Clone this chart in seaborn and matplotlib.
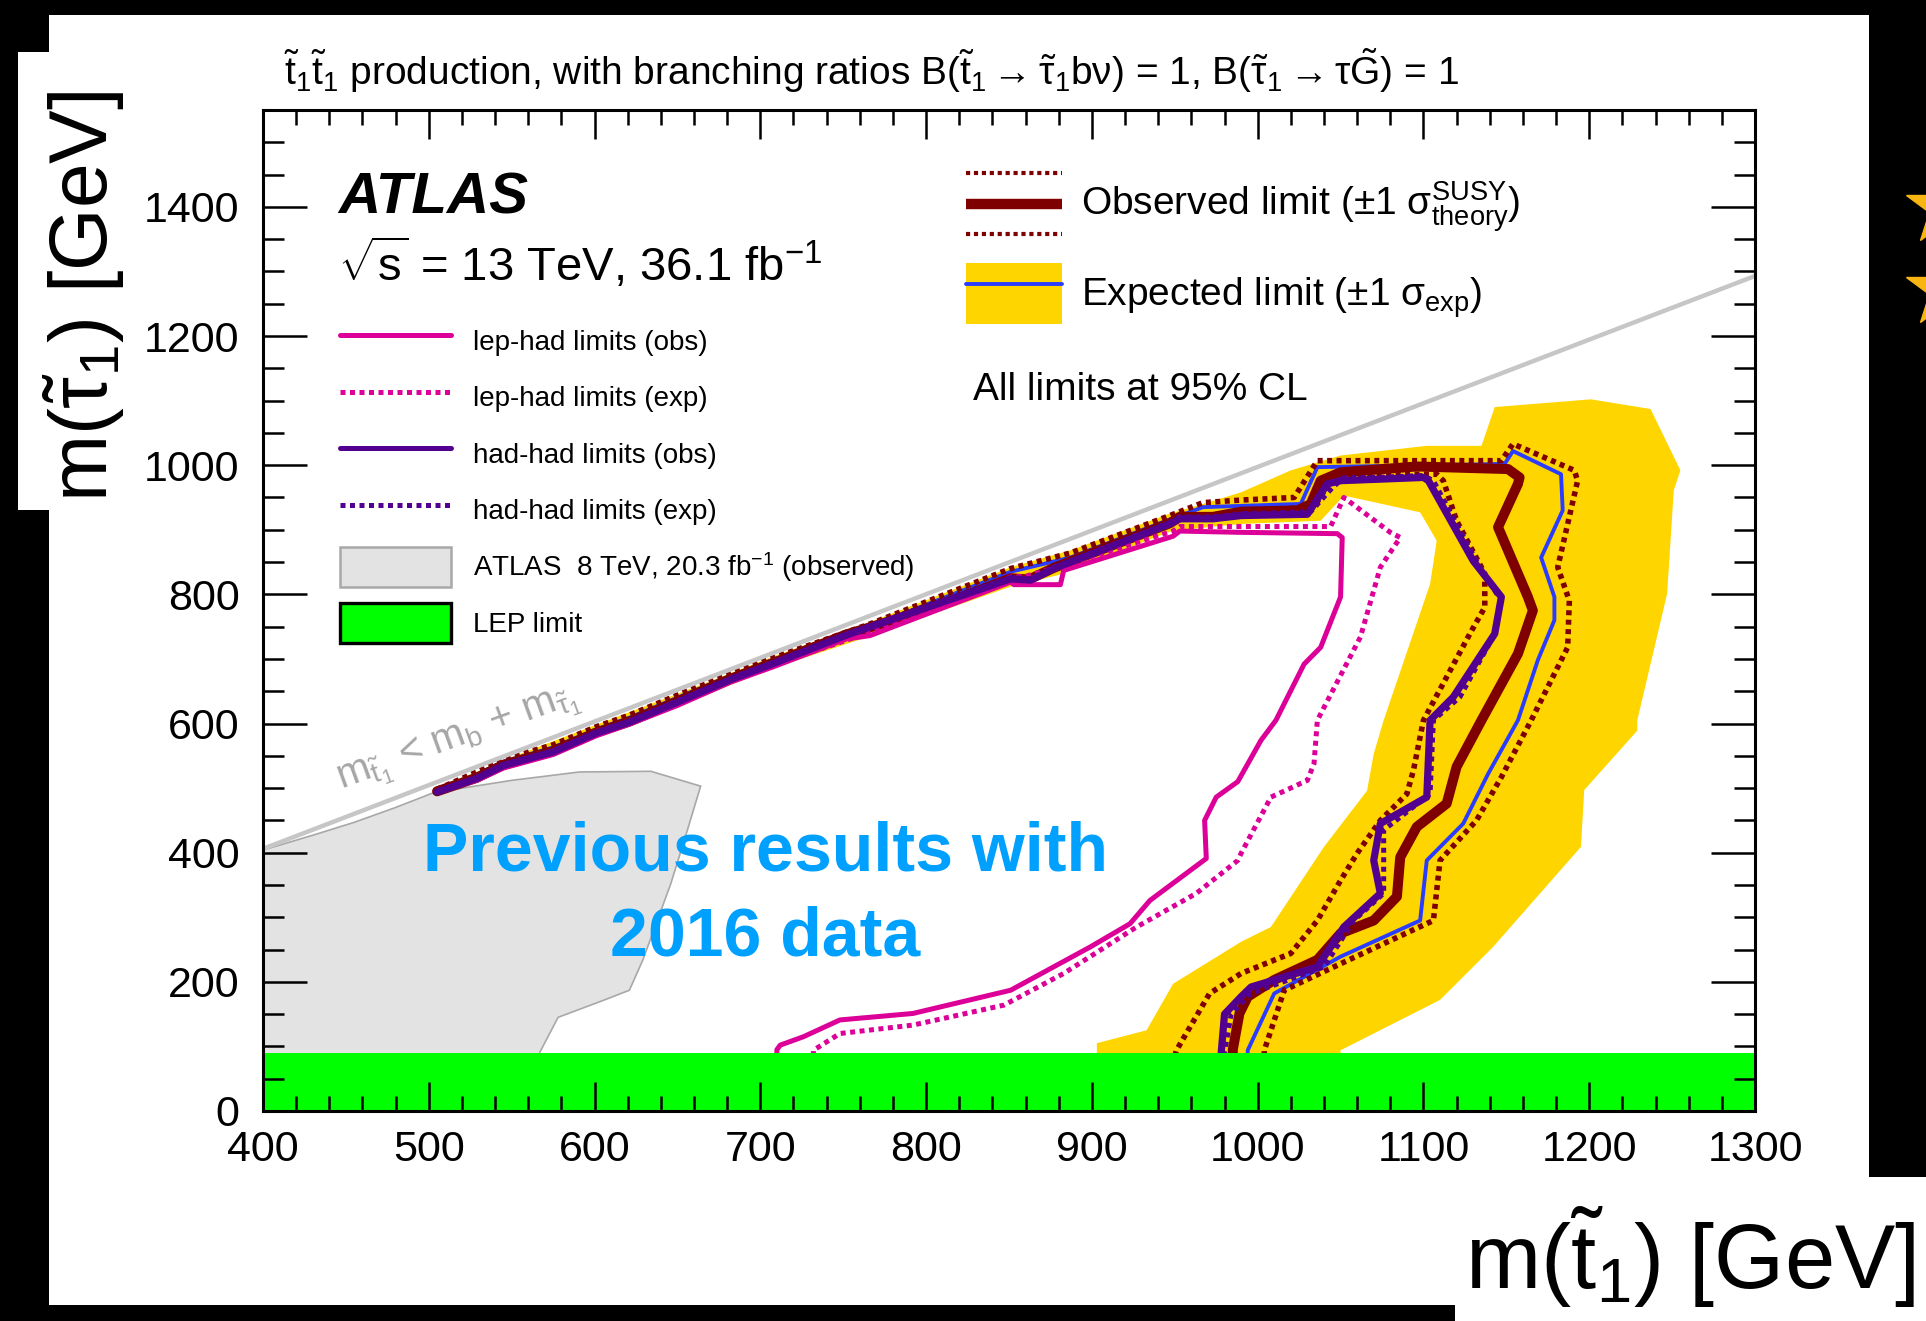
import matplotlib
matplotlib.use("Agg")
import matplotlib.pyplot as plt
import seaborn as sns
from matplotlib.patches import Rectangle, Patch
from matplotlib.lines import Line2D
from matplotlib.ticker import MultipleLocator
from matplotlib.legend_handler import HandlerBase, HandlerTuple

# ------------------------------------------------------------------
# Exclusion contours in the (m(stop), m(stau)) plane, GeV
# ------------------------------------------------------------------
lephad_obs_x = [710, 710, 712, 726, 748, 792, 851, 899, 923, 935, 969, 968, 975, 988, 1002, 1011, 1028, 1038, 1050, 1051,
                1048, 990, 953, 949, 883, 881, 853, 851, 766, 752, 708, 682, 650, 621, 601, 575, 545, 529, 505]
lephad_obs_y = [85, 95, 102, 115, 141, 151, 187, 254, 290, 326, 391, 450, 486, 510, 574, 605, 692, 718, 796, 888,
                894, 896, 898, 890, 837, 815, 815, 819, 736, 731, 688, 664, 628, 599, 581, 552, 531, 512, 494]

lephad_exp_x = [732, 732, 748, 792, 847, 883, 927, 963, 988, 990, 1008, 1030, 1034, 1036, 1062, 1074, 1086, 1080, 1052, 1044,
                990, 953, 949, 883, 860, 851, 766, 708, 682, 650, 621, 601, 575, 545, 529, 505]
lephad_exp_y = [85, 94, 120, 133, 164, 213, 285, 337, 388, 399, 486, 512, 538, 605, 734, 842, 888, 896, 950, 905,
                905, 905, 898, 845, 828, 827, 741, 691, 667, 631, 602, 584, 555, 534, 514, 494]

hadhad_obs_x = [978, 978, 980, 990, 996, 1036, 1052, 1074, 1070, 1074, 1102, 1104, 1118, 1143, 1147, 1130, 1103, 1100, 1050, 1042,
                1030, 990, 973, 953, 947, 877, 863, 851, 752, 708, 682, 650, 621, 601, 575, 545, 529, 505]
hadhad_obs_y = [85, 90, 150, 177, 192, 223, 285, 337, 388, 445, 486, 605, 641, 739, 796, 852, 976, 981, 976, 971,
                924, 922, 917, 917, 909, 840, 822, 824, 737, 693, 668, 633, 602, 585, 556, 535, 515, 494]

hadhad_exp_x = [980, 980, 984, 996, 1010, 1040, 1058, 1076, 1076, 1104, 1106, 1122, 1143, 1147, 1135, 1106, 1100, 1070, 1052, 1045,
                1032, 990, 973, 953, 947, 877, 863, 851, 752, 708, 682, 650, 621, 601, 575, 545, 529, 505]
hadhad_exp_y = [85, 90, 150, 182, 195, 223, 295, 337, 435, 491, 605, 641, 739, 790, 837, 976, 984, 981, 981, 965,
                928, 925, 920, 920, 911, 842, 824, 826, 739, 695, 670, 635, 604, 587, 558, 537, 517, 494]

comb_obs_x = [985, 985, 989, 994, 1010, 1036, 1050, 1070, 1084, 1086, 1096, 1114, 1120, 1135, 1157, 1166, 1163, 1145, 1157, 1158,
              1151, 1096, 1050, 1038, 1032, 1024, 990, 973, 953, 947, 877, 862, 851, 800, 752, 708, 682, 650, 621, 601,
              575, 545, 529, 505]
comb_obs_y = [85, 95, 151, 177, 203, 234, 275, 295, 332, 393, 440, 476, 533, 605, 708, 775, 796, 904, 971, 981,
              994, 998, 989, 976, 940, 930, 928, 920, 920, 910, 841, 823, 825, 775, 738, 694, 669, 634, 603, 586,
              557, 536, 516, 495]

theory_up_x = [1004, 1004, 1016, 1050, 1106, 1110, 1132, 1147, 1165, 1179, 1187, 1188, 1181, 1193, 1191, 1154, 1147, 1036, 1022, 990,
               967, 947, 887, 851, 766, 708, 682, 650, 621, 601, 575, 545, 529, 505]
theory_up_y = [85, 94, 187, 228, 295, 388, 450, 517, 605, 677, 718, 790, 842, 976, 992, 1033, 1007, 1007, 950, 946,
               942, 922, 864, 840, 754, 702, 677, 644, 613, 595, 567, 545, 525, 498]

theory_dn_x = [950, 951, 971, 990, 1020, 1036, 1050, 1060, 1074, 1090, 1094, 1100, 1128, 1137, 1137, 1120, 1112, 1108, 1052, 1045,
               1034, 990, 973, 953, 947, 877, 863, 851, 752, 708, 682, 650, 621, 601, 575, 545, 529, 505]
theory_dn_y = [85, 94, 182, 213, 244, 295, 357, 399, 450, 491, 528, 605, 739, 780, 832, 914, 976, 986, 986, 980,
               935, 929, 919, 919, 910, 842, 825, 827, 739, 694, 669, 634, 603, 586, 557, 536, 516, 494]

comb_exp_x = [994, 994, 1010, 1050, 1098, 1102, 1124, 1139, 1157, 1169, 1179, 1179, 1171, 1184, 1183, 1154, 1149, 1036, 1026, 990,
              967, 947, 887, 851, 766, 708, 682, 650, 621, 601, 575, 545, 529, 505]
comb_exp_y = [85, 94, 182, 239, 295, 388, 445, 522, 605, 698, 760, 796, 857, 930, 986, 1022, 1002, 997, 940, 937,
              935, 916, 857, 835, 750, 699, 674, 640, 609, 591, 563, 541, 521, 496]

# expected +-1 sigma band (closed outline)
band_x = [903, 903, 933, 949, 990, 1008, 1040, 1066, 1070, 1076, 1104, 1108, 1098, 1052, 1038, 990, 973, 947, 880, 851,
          760, 708, 650, 600, 550, 505, 505, 550, 600, 650, 708, 766, 851, 887, 947, 967, 990, 1020, 1050, 1102,
          1135, 1143, 1201, 1237, 1255, 1251, 1247, 1229, 1229, 1197, 1195, 1142, 1110, 1050, 1050]
band_y = [85, 105, 125, 197, 262, 285, 409, 496, 553, 605, 816, 883, 927, 953, 914, 909, 905, 897, 830, 812,
          730, 686, 627, 579, 532, 493, 500, 548, 597, 646, 704, 757, 842, 868, 925, 940, 958, 992, 1015, 1030,
          1030, 1090, 1102, 1087, 992, 961, 801, 605, 589, 497, 409, 254, 172, 94, 85]

# ATLAS 8 TeV observed exclusion
run1_x = [400, 400, 430, 455, 480, 503, 550, 591, 634, 664, 656, 646, 629, 621, 606, 578, 567, 560]
run1_y = [0, 404, 427, 447, 470, 493, 512, 525, 526, 503, 435, 352, 233, 187, 172, 145, 91, 0]

# kinematic boundary m(stop) = m(b) + m(stau)
kin_x = [400, 1300]
kin_y = [406, 1293]

LEP_LIMIT = 90
x_span = [400, 1300]

x_ticks = [400, 500, 600, 700, 800, 900, 1000, 1100, 1200, 1300]
y_ticks = [0, 200, 400, 600, 800, 1000, 1200, 1400]

# ------------------------------------------------------------------
W, H = 1926, 1321
MAGENTA = "#dc0098"
PURPLE = "#520090"
MAROON = "#7f0000"
BLUE = "#2a3cff"
GOLD = "#ffd500"
GREEN = "#00ff00"
RUN1_FILL = "#e3e3e3"
RUN1_EDGE = "#a8a8a8"
DOT = (0, (1.0, 0.9))
BIGDOT = (0, (0.9, 0.8))

sns.set_theme(style="white")
plt.rcParams.update({
    "font.family": ["Liberation Sans", "DejaVu Sans"],
    "mathtext.fontset": "custom",
    "mathtext.rm": "Liberation Sans",
    "mathtext.it": "Liberation Sans:italic",
    "mathtext.bf": "Liberation Sans:bold",
    "mathtext.default": "regular",
    "text.color": "black",
    "axes.labelcolor": "black",
    "xtick.color": "black",
    "ytick.color": "black",
})


def fx(px):
    return px / W


def fy(py):
    return 1 - py / H


fig = plt.figure(figsize=(W / 100, H / 100), dpi=100, facecolor="black")

# white panels on the black canvas
for x0, y0, x1, y1 in [(49, 15, 1869, 1305), (18, 52, 60, 510), (1455, 1177, 1926, 1321)]:
    fig.patches.append(Rectangle((fx(x0), fy(y1)), fx(x1) - fx(x0), fy(y0) - fy(y1),
                                 transform=fig.transFigure, facecolor="white",
                                 edgecolor="none", zorder=-10))

ax = fig.add_axes([fx(263), fy(1111), fx(1755) - fx(263), fy(110) - fy(1111)])
ax.set_zorder(1)
ax.set_facecolor("white")

ax.fill(run1_x, run1_y, facecolor=RUN1_FILL, edgecolor=RUN1_EDGE, linewidth=1.2, zorder=1.0)
ax.fill(band_x, band_y, facecolor=GOLD, edgecolor="none", zorder=1.1)


def contour(xs, ys, color, lw, ls="-", z=1.5):
    sns.lineplot(x=xs, y=ys, sort=False, estimator=None, color=color,
                 linewidth=lw, linestyle=ls, ax=ax, zorder=z)


contour(comb_exp_x, comb_exp_y, BLUE, 2.8, z=1.20)
contour(theory_up_x, theory_up_y, MAROON, 4.0, BIGDOT, z=1.30)
contour(theory_dn_x, theory_dn_y, MAROON, 4.0, BIGDOT, z=1.30)
contour(comb_obs_x, comb_obs_y, MAROON, 7.2, z=1.40)
contour(lephad_exp_x, lephad_exp_y, MAGENTA, 3.6, DOT, z=1.50)
contour(lephad_obs_x, lephad_obs_y, MAGENTA, 3.6, z=1.55)
contour(hadhad_exp_x, hadhad_exp_y, PURPLE, 3.6, DOT, z=1.60)
contour(hadhad_obs_x, hadhad_obs_y, PURPLE, 5.2, z=1.65)
contour(kin_x, kin_y, "#c6c6c6", 3.2, z=1.90)

ax.fill_between(x_span, 0, LEP_LIMIT, color=GREEN, linewidth=0, zorder=2.0)

ax.text(518, 574, r"$m_{\tilde{t}_1}$ < $m_b$ + $m_{\tilde{\tau}_1}$", rotation=20,
        rotation_mode="anchor", ha="center", va="center", color="#a6a6a6", fontsize=29, zorder=3)

ax.text(703, 373, "Previous results with", color="#00a0ff", fontsize=49,
        fontweight="bold", ha="center", va="baseline", zorder=4)
ax.text(703, 241, "2016 data", color="#00a0ff", fontsize=49,
        fontweight="bold", ha="center", va="baseline", zorder=4)

# axes styling (ROOT-like inward ticks on all sides)
ax.set_xlim(400, 1300)
ax.set_ylim(0, 1550)
ax.set_xticks(x_ticks)
ax.set_yticks(y_ticks)
ax.xaxis.set_minor_locator(MultipleLocator(20))
ax.yaxis.set_minor_locator(MultipleLocator(50))
ax.tick_params(which="both", direction="in", top=True, right=True, bottom=True, left=True,
               width=1.8, colors="black")
ax.tick_params(axis="x", which="major", length=21, pad=14, labelsize=31)
ax.tick_params(axis="x", which="minor", length=11)
ax.tick_params(axis="y", which="major", length=32, pad=17, labelsize=31)
ax.tick_params(axis="y", which="minor", length=15)
for sp in ax.spines.values():
    sp.set_visible(True)
    sp.set_color("black")
    sp.set_linewidth(2.2)
    sp.set_zorder(5)
ax.set_axisbelow(False)
ax.set_xlabel("")
ax.set_ylabel("")

# left legend: channel results
left_handles = [
    Line2D([], [], color=MAGENTA, lw=3.6),
    Line2D([], [], color=MAGENTA, lw=3.6, linestyle=DOT),
    Line2D([], [], color=PURPLE, lw=3.6),
    Line2D([], [], color=PURPLE, lw=3.6, linestyle=DOT),
    Patch(facecolor=RUN1_FILL, edgecolor=RUN1_EDGE, linewidth=1.8),
    Patch(facecolor=GREEN, edgecolor="black", linewidth=2.4),
]
left_labels = ["lep-had limits (obs)", "lep-had limits (exp)", "had-had limits (obs)",
               "had-had limits (exp)", r"ATLAS  8 TeV, 20.3 fb$^{-1}$ (observed)", "LEP limit"]
leg1 = ax.legend(left_handles, left_labels, loc="upper left",
                 bbox_to_anchor=(fx(340), fy(321)), bbox_transform=fig.transFigure,
                 frameon=False, fontsize=20, handlelength=4.0, handletextpad=0.79,
                 handleheight=1.84, labelspacing=0.59, borderpad=0, borderaxespad=0)
ax.add_artist(leg1)


class ObservedKey(HandlerBase):
    """Thick observed line framed by the two dotted theory-uncertainty lines."""

    def create_artists(self, legend, orig_handle, xdescent, ydescent, width, height,
                       fontsize, trans):
        x0, x1 = -xdescent, -xdescent + width
        arts = []
        for yy, lw, ls in ((height - ydescent, 3.0, DOT),
                           (height / 2 - ydescent, 7.5, "-"),
                           (-ydescent, 3.0, DOT)):
            ln = Line2D([x0, x1], [yy, yy], color=MAROON, linewidth=lw, linestyle=ls,
                        solid_capstyle="butt")
            ln.set_transform(trans)
            arts.append(ln)
        return arts


obs_key = Line2D([], [], color=MAROON)
exp_key = (Patch(facecolor=GOLD, edgecolor="none"), Line2D([], [], color=BLUE, lw=2.8))
leg2 = ax.legend([obs_key, exp_key],
                 [r"Observed limit (±1 $\sigma^{SUSY}_{theory}$)",
                  r"Expected limit (±1 $\sigma_{exp}$)"],
                 handler_map={obs_key: ObservedKey(), tuple: HandlerTuple(ndivide=1, pad=0)},
                 loc="upper left", bbox_to_anchor=(fx(966), fy(173)),
                 bbox_transform=fig.transFigure, frameon=False, fontsize=28,
                 handlelength=2.47, handletextpad=0.49, handleheight=2.04,
                 labelspacing=0.73, borderpad=0, borderaxespad=0)

fig.text(fx(973), fy(390), "All limits at 95% CL", fontsize=28, ha="left", va="center")

# header texts
fig.text(fx(284), fy(71),
         r"$\tilde{t}_1\tilde{t}_1$ production, with branching ratios "
         r"B($\tilde{t}_1 \rightarrow \tilde{\tau}_1 b\nu$) = 1, B($\tilde{\tau}_1 \rightarrow \tau\tilde{G}$) = 1",
         fontsize=28, ha="left", va="center")
fig.text(fx(338), fy(199), "ATLAS", fontsize=42, fontweight="bold", fontstyle="italic",
         ha="left", va="center")
fig.text(fx(338), fy(264), r"$\sqrt{s}$ = 13 TeV, 36.1 fb$^{-1}$", fontsize=34,
         ha="left", va="center")

# axis titles
fig.text(fx(1690), fy(1257), r"m($\tilde{t}_1$) [GeV]", fontsize=65, ha="center", va="center")
fig.text(fx(84), fy(296), r"m($\tilde{\tau}_1$) [GeV]", fontsize=58, rotation=90,
         ha="center", va="center")

# decorative stars at the right edge
for sy in (207, 289):
    fig.add_artist(Line2D([fx(1944)], [fy(sy)], marker="*", markersize=58,
                          color="#f9b613", linestyle="none", transform=fig.transFigure))

fig.savefig("out.png", dpi=100, facecolor="black")
